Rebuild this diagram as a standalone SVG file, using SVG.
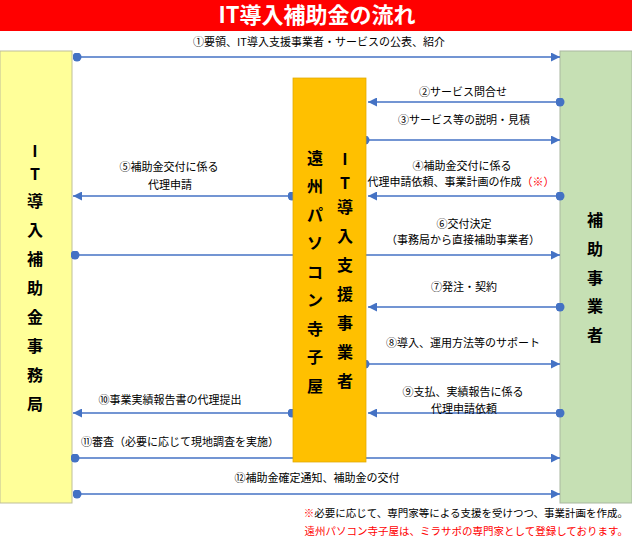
<svg xmlns="http://www.w3.org/2000/svg" width="632" height="538" viewBox="0 0 632 538">
<style>
.lbl{font-family:"Noto Sans CJK JP","Liberation Sans",sans-serif;font-size:11px;fill:#000;text-anchor:middle}
.col{font-family:"Noto Sans CJK JP","Liberation Sans",sans-serif;font-size:16px;font-weight:bold;fill:#000;text-anchor:middle}
.con{stroke:#4472C4;stroke-width:1.5;fill:none;marker-start:url(#dot);marker-end:url(#ah)}
.red{fill:#FF0000}
.note{font-family:"Noto Sans CJK JP","Liberation Sans",sans-serif;font-size:10.5px;text-anchor:end}
</style>
<defs>
<marker id="ah" viewBox="0 0 10 10" refX="10" refY="5" markerWidth="11" markerHeight="9" markerUnits="userSpaceOnUse" orient="auto"><path d="M0,0 L10,5 L0,10 z" fill="#4472C4"/></marker>
<marker id="dot" viewBox="0 0 10 10" refX="5" refY="5" markerWidth="9" markerHeight="9" markerUnits="userSpaceOnUse"><circle cx="5" cy="5" r="5" fill="#4472C4"/></marker>
</defs>
<rect width="632" height="538" fill="#FFFFFF"/>
<g id="title">
<rect x="0" y="0" width="632" height="31" fill="#FF0000"/>
<text x="317" y="23" font-family="'Noto Sans CJK JP','Liberation Sans',sans-serif" font-size="22" font-weight="bold" fill="#FFFFFF" text-anchor="middle">IT導入補助金の流れ</text>
</g>
<g id="office">
<rect x="0" y="51" width="72" height="452" fill="#FFFF99" stroke="#BFBF99" stroke-width="1"/>
<text class="col"><tspan x="35" y="157">I</tspan><tspan x="35" y="180">T</tspan><tspan x="35" y="207">導</tspan><tspan x="35" y="236">入</tspan><tspan x="35" y="265">補</tspan><tspan x="35" y="294">助</tspan><tspan x="35" y="323">金</tspan><tspan x="35" y="352">事</tspan><tspan x="35" y="381">務</tspan><tspan x="35" y="410">局</tspan></text>
</g>
<g id="business">
<rect x="560" y="51" width="72" height="452" fill="#C6E0B4" stroke="#A9B8A0" stroke-width="1"/>
<text class="col"><tspan x="595" y="226">補</tspan><tspan x="595" y="255">助</tspan><tspan x="595" y="284">事</tspan><tspan x="595" y="312">業</tspan><tspan x="595" y="341">者</tspan></text>
</g>
<g id="connectors">
<path class="con" d="M77,57 H560"/>
<path class="con" d="M560,102 H368"/>
<path class="con" d="M365,140 H560"/>
<path class="con" d="M560,196 H368"/>
<path class="con" d="M292,196 H73"/>
<path class="con" d="M75,255 H560"/>
<path class="con" d="M560,307 H368"/>
<path class="con" d="M365,364 H560"/>
<path class="con" d="M560,413 H368"/>
<path class="con" d="M292,413 H73"/>
<path class="con" d="M75,458 H560"/>
<path class="con" d="M77,494 H560"/>
<text class="lbl" x="319" y="46">①要領、IT導入支援事業者・サービスの公表、紹介</text>
<text class="lbl" x="463" y="96">②サービス問合せ</text>
<text class="lbl" x="464" y="124">③サービス等の説明・見積</text>
<text class="lbl" x="462" y="170">④補助金交付に係る</text>
<text class="lbl" x="461" y="186">代理申請依頼、事業計画の作成<tspan class="red">（※）</tspan></text>
<text class="lbl" x="169" y="171">⑤補助金交付に係る</text>
<text class="lbl" x="170" y="189">代理申請</text>
<text class="lbl" x="464" y="228">⑥交付決定</text>
<text class="lbl" x="463" y="244">（事務局から直接補助事業者）</text>
<text class="lbl" x="464" y="291">⑦発注・契約</text>
<text class="lbl" x="463" y="347">⑧導入、運用方法等のサポート</text>
<text class="lbl" x="463" y="396">⑨支払、実績報告に係る</text>
<text class="lbl" x="464" y="413">代理申請依頼</text>
<text class="lbl" x="170" y="404">⑩事業実績報告書の代理提出</text>
<text class="lbl" x="180" y="446">⑪審査（必要に応じて現地調査を実施）</text>
<text class="lbl" x="317" y="482">⑫補助金確定通知、補助金の交付</text>
</g>
<g id="vendor">
<rect x="293" y="78" width="73" height="384" fill="#FFC000" stroke="#E0A800" stroke-width="0.75"/>
<text class="col"><tspan x="315" y="164">遠</tspan><tspan x="315" y="192">州</tspan><tspan x="315" y="221">パ</tspan><tspan x="315" y="249">ソ</tspan><tspan x="315" y="278">コ</tspan><tspan x="315" y="306">ン</tspan><tspan x="315" y="335">寺</tspan><tspan x="315" y="363">子</tspan><tspan x="315" y="392">屋</tspan></text>
<text class="col"><tspan x="345" y="165">I</tspan><tspan x="345" y="189">T</tspan><tspan x="345" y="213">導</tspan><tspan x="345" y="242">入</tspan><tspan x="345" y="271">支</tspan><tspan x="345" y="300">援</tspan><tspan x="345" y="329">事</tspan><tspan x="345" y="358">業</tspan><tspan x="345" y="387">者</tspan></text>
</g>
<g id="notes">
<text class="note" x="628" y="517" fill="#000"><tspan class="red">※</tspan>必要に応じて、専門家等による支援を受けつつ、事業計画を作成。</text>
<text class="note red" x="628" y="535">遠州パソコン寺子屋は、ミラサポの専門家として登録しております。</text>
</g>
</svg>
